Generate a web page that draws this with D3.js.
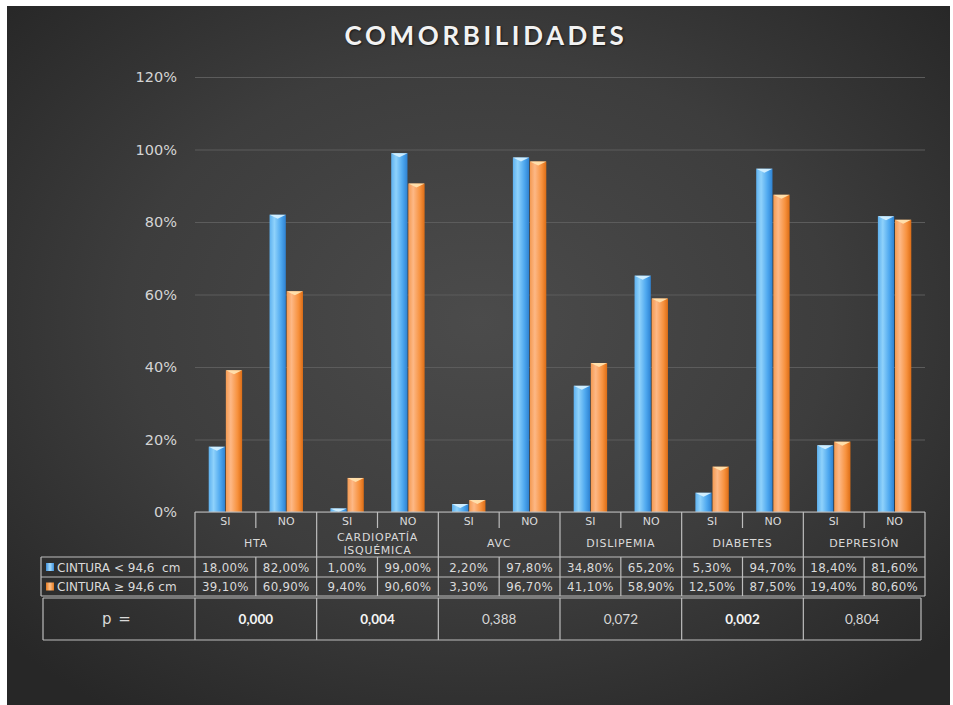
<!DOCTYPE html>
<html>
<head>
<meta charset="utf-8">
<script src="https://cdn.jsdelivr.net/npm/d3@7"></script>
<style>
  html, body { margin: 0; padding: 0; background: #ffffff; }
  svg { display: block; }
  text { white-space: pre; }
</style>
</head>
<body>
<script>
// Comorbidities by waist circumference group
const groups = [["HTA"], ["CARDIOPATÍA", "ISQUÉMICA"], ["AVC"], ["DISLIPEMIA"], ["DIABETES"], ["DEPRESIÓN"]];
const answers = ["SI", "NO"];
const seriesNames = ["CINTURA < 94,6  cm", "CINTURA ≥ 94,6 cm"];
const waistBelow = [18.0, 82.0, 1.0, 99.0, 2.2, 97.8, 34.8, 65.2, 5.3, 94.7, 18.4, 81.6];
const waistAbove = [39.1, 60.9, 9.4, 90.6, 3.3, 96.7, 41.1, 58.9, 12.5, 87.5, 19.4, 80.6];
const pValues = ["0,000", "0,004", "0,388", "0,072", "0,002", "0,804"];
const pBold = [true, true, false, false, true, false];
const yTicks = [0, 0.2, 0.4, 0.6, 0.8, 1.0, 1.2];

(function () {
const W = 953, H = 705;
const svg = d3.select("body").append("svg").attr("width", W).attr("height", H);
const defs = svg.append("defs");

// background
const bg = defs.append("radialGradient").attr("id", "bg")
  .attr("cx", "50%").attr("cy", "45%").attr("r", "68%");
bg.append("stop").attr("offset", "0%").attr("stop-color", "#4b4b4b");
bg.append("stop").attr("offset", "55%").attr("stop-color", "#3d3d3d");
bg.append("stop").attr("offset", "100%").attr("stop-color", "#272727");
svg.append("rect").attr("x", 7).attr("y", 6).attr("width", 943).attr("height", 699).attr("fill", "url(#bg)");

// bar gradients
function barGrad(id, stops) {
  const g = defs.append("linearGradient").attr("id", id).attr("x1", "0").attr("x2", "1").attr("y1", "0").attr("y2", "0");
  stops.forEach(s => g.append("stop").attr("offset", s[0]).attr("stop-color", s[1]));
}
barGrad("gBlue", [[0, "#5eb1ef"], [0.3, "#8fd2fb"], [0.7, "#4ea8ef"], [1, "#2e82d2"]]);
barGrad("gOrange", [[0, "#f49a52"], [0.3, "#fdb886"], [0.72, "#f7913d"], [1, "#dc6d16"]]);
barGrad("lBlue", [[0, "#3d8fdc"], [0.5, "#a6dcfc"], [1, "#3d8fdc"]]);
barGrad("lOrange", [[0, "#e57a20"], [0.5, "#ffc28a"], [1, "#e57a20"]]);
const fills = ["url(#gBlue)", "url(#gOrange)"];
const capFills = ["#d4f0ff", "#ffe2ae"];
const legendFills = ["url(#lBlue)", "url(#lOrange)"];

// scales
const plotLeft = 195, plotRight = 925, plotTop = 77, base = 512;
const cats = [];
groups.forEach((g, gi) => answers.forEach(a => cats.push(gi + "-" + a)));
const x = d3.scaleBand().domain(cats).range([plotLeft, plotRight]).padding(0);
const xs = d3.scaleBand().domain([0, 1]).range([0, x.bandwidth()]).paddingOuter(0.8).paddingInner(0.05);
const y = d3.scaleLinear().domain([0, 1.2]).range([base, plotTop]);

// title
svg.append("text").attr("x", 486).attr("y", 45).attr("text-anchor", "middle")
  .attr("font-family", "Lato, 'Open Sans', sans-serif").attr("font-weight", "bold")
  .attr("font-size", 26).attr("letter-spacing", 3.6).attr("fill", "#f2f2f2")
  .style("text-shadow", "1px 1px 2px rgba(0,0,0,0.6)")
  .text("COMORBILIDADES");

// y axis + gridlines
const yAxis = d3.axisLeft(y).tickValues(yTicks).tickFormat(d3.format(".0%"))
  .tickSize(-(plotRight - plotLeft)).tickPadding(18);
const ag = svg.append("g").attr("transform", `translate(${plotLeft},0)`).call(yAxis);
ag.select(".domain").remove();
ag.selectAll(".tick line").attr("stroke", "#5c5c5c").attr("stroke-width", 1);
ag.selectAll(".tick text").attr("fill", "#d4d4d4").attr("font-family", "'DejaVu Sans', sans-serif")
  .attr("font-size", 14.5);

// bars
const series = [waistBelow, waistAbove];
const bars = svg.append("g");
series.forEach((vals, si) => {
  vals.forEach((v, i) => {
    const x0 = x(cats[i]) + xs(si), w = xs.bandwidth();
    const yt = y(v / 100), h = base - yt;
    bars.append("rect").attr("x", x0).attr("y", yt).attr("width", w).attr("height", h).attr("fill", fills[si]);
    const ch = Math.min(4, h);
    bars.append("path")
      .attr("d", `M${x0},${yt}L${x0 + w},${yt}L${x0 + w / 2},${yt + ch}Z`)
      .attr("fill", capFills[si]).attr("opacity", 0.95);
  });
});

// data table
const lineC = "#bdbdbd";
const t = svg.append("g").attr("font-family", "'DejaVu Sans', sans-serif").attr("fill", "#dadada");
const rowTop = base, rowGroup = 557, row1 = 577, row2 = 596;
const legLeft = 41;
function hline(x1, x2, yy) { t.append("line").attr("x1", x1).attr("x2", x2).attr("y1", yy).attr("y2", yy).attr("stroke", lineC).attr("stroke-width", 1.2); }
function vline(xx, y1, y2) { t.append("line").attr("x1", xx).attr("x2", xx).attr("y1", y1).attr("y2", y2).attr("stroke", lineC).attr("stroke-width", 1.2); }

hline(plotLeft, plotRight, rowTop);
hline(legLeft, plotRight, rowGroup);
hline(legLeft, plotRight, row1);
hline(legLeft, plotRight, row2);
vline(legLeft, rowGroup, row2);
cats.forEach((c, i) => {
  const xx = x(c);
  if (i % 2 === 0) vline(xx, rowTop, row2);
  else { vline(xx, rowTop, rowTop + 16); vline(xx, rowGroup, row2); }
});
vline(plotRight, rowTop, row2);

// SI / NO labels
cats.forEach((c, i) => {
  t.append("text").attr("x", x(c) + x.bandwidth() / 2).attr("y", rowTop + 13)
    .attr("text-anchor", "middle").attr("font-size", 11).text(answers[i % 2]);
});
// group labels
groups.forEach((g, gi) => {
  const cx = x(gi + "-SI") + x.bandwidth();
  const yc = (rowTop + 17 + rowGroup) / 2;
  g.forEach((line, li) => {
    t.append("text").attr("x", cx).attr("y", yc + 4 + (li - (g.length - 1) / 2) * 13)
      .attr("text-anchor", "middle").attr("font-size", 11).attr("letter-spacing", 0.7).text(line);
  });
});
// value rows
const fmt = v => d3.format(".2f")(v).replace(".", ",") + "%";
[[waistBelow, rowGroup, row1], [waistAbove, row1, row2]].forEach(([vals, y1, y2], si) => {
  const yc = (y1 + y2) / 2 + 4.5;
  vals.forEach((v, i) => {
    t.append("text").attr("x", x(cats[i]) + x.bandwidth() / 2).attr("y", yc)
      .attr("text-anchor", "middle").attr("font-size", 11.8).attr("letter-spacing", 0.3).text(fmt(v));
  });
  t.append("rect").attr("x", legLeft + 5).attr("y", (y1 + y2) / 2 - 4).attr("width", 8).attr("height", 8)
    .attr("fill", legendFills[si]);
  t.append("text").attr("x", legLeft + 16).attr("y", yc).attr("font-size", 12).text(seriesNames[si]);
});

// p-value row
const pTop = 598, pBot = 640, pLeft = 43, pRight = 921;
hline(pLeft, pRight, pTop);
hline(pLeft, pRight, pBot);
vline(pLeft, pTop, pBot);
vline(pRight, pTop, pBot);
groups.forEach((g, gi) => vline(x(gi + "-SI"), pTop, pBot));
t.append("text").attr("x", 117).attr("y", 624).attr("text-anchor", "middle").attr("font-size", 15)
  .attr("letter-spacing", 1).text("p =");
pValues.forEach((p, gi) => {
  const x0 = x(gi + "-SI"), x1 = gi === groups.length - 1 ? pRight : x(gi + "-SI") + 2 * x.bandwidth();
  t.append("text").attr("x", (x0 + x1) / 2).attr("y", 624).attr("text-anchor", "middle")
    .attr("font-family", "Lato, sans-serif").attr("font-size", 13.5)
    .attr("font-weight", pBold[gi] ? "bold" : "normal")
    .attr("fill", pBold[gi] ? "#f4f4f4" : "#d6d6d6").text(p);
});
})();
</script>
</body>
</html>
